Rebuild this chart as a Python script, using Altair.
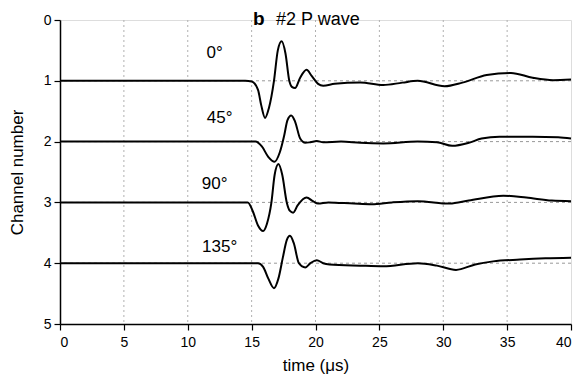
import altair as alt
import pandas as pd

# ---- data ----
channels = [1, 2, 3, 4]
angles = ["0°", "45°", "90°", "135°"]

# time (μs) and displacement (channel units, positive = downward)
t_ch1 = [0, 5, 10, 14.5, 15.0, 15.5, 15.75, 16.05, 16.35, 16.75, 17.05, 17.35, 17.65, 17.95, 18.15, 18.4, 18.8, 19.3, 19.7, 20.2, 20.6, 21.5, 23.5, 25.3, 26.8, 28.0, 30.1, 31.5, 33.4, 35.3, 37.0, 38.6, 40.0]
d_ch1 = [0, 0, 0, 0, 0.01, 0.15, 0.4, 0.61, 0.45, 0.0, -0.5, -0.65, -0.45, 0.0, 0.1, 0.12, -0.05, -0.18, -0.08, 0.05, 0.08, 0.05, 0.03, 0.07, 0.03, 0.0, 0.09, 0.03, -0.095, -0.13, -0.05, -0.01, -0.02]

t_ch2 = [0, 5, 10, 15.3, 15.8, 16.3, 16.8, 17.2, 17.55, 17.8, 18.1, 18.4, 18.8, 19.2, 19.6, 20.1, 20.6, 22.0, 23.5, 25.3, 28.0, 29.5, 30.7, 32.0, 33.0, 34.4, 37.0, 39.0, 40.0]
d_ch2 = [0, 0, 0, 0, 0.08, 0.25, 0.33, 0.18, -0.1, -0.35, -0.43, -0.33, -0.05, 0.02, 0.01, -0.01, 0.01, 0.0, 0.02, 0.03, 0.0, 0.01, 0.07, 0.02, -0.05, -0.08, -0.08, -0.07, -0.05]

t_ch3 = [0, 5, 10, 14.7, 15.1, 15.5, 15.9, 16.2, 16.55, 16.8, 17.1, 17.4, 17.75, 18.0, 18.25, 18.6, 19.3, 19.8, 20.2, 21.0, 23.0, 24.4, 26.0, 28.0, 30.5, 32.0, 34.7, 36.5, 38.5, 40.0]
d_ch3 = [0, 0, 0, 0, 0.15, 0.38, 0.47, 0.35, 0.0, -0.45, -0.63, -0.45, 0.0, 0.14, 0.17, 0.05, -0.08, -0.02, 0.02, 0.0, 0.02, 0.03, 0.0, -0.02, 0.02, -0.03, -0.11, -0.08, -0.03, -0.02]

t_ch4 = [0, 5, 10, 15.5, 15.9, 16.3, 16.75, 17.1, 17.45, 17.75, 18.0, 18.3, 18.7, 19.2, 19.6, 20.1, 20.6, 21.1, 23.5, 25.3, 28.0, 29.5, 31.0, 32.5, 33.9, 36.0, 38.0, 40.0]
d_ch4 = [0, 0, 0, 0, 0.06, 0.25, 0.41, 0.25, -0.1, -0.38, -0.45, -0.33, 0.0, 0.07, 0.0, -0.05, 0.0, 0.02, 0.04, 0.05, 0.0, 0.04, 0.11, 0.02, -0.03, -0.06, -0.08, -0.09]

label_t = [12.1, 12.5, 12.1, 12.5]
label_y = [0.55, 1.62, 2.69, 3.74]

x_grid = [5, 10, 15, 20, 25, 30, 35]
y_grid = [1, 2, 3, 4]
x_ticks = [0, 2.5, 5, 7.5, 10, 12.5, 15, 17.5, 20, 22.5, 25, 27.5, 30, 32.5, 35, 37.5, 40]
y_ticks = [0, 1, 2, 3, 4, 5]

# ---- build table ----
rows = []
for ch, ts, ds in zip(channels, [t_ch1, t_ch2, t_ch3, t_ch4], [d_ch1, d_ch2, d_ch3, d_ch4]):
    for t, d in zip(ts, ds):
        rows.append({"t": t, "y": ch + d, "ch": ch})
df = pd.DataFrame(rows)
labels = pd.DataFrame({"t": label_t, "y": label_y, "text": angles})
xg = pd.DataFrame({"x": x_grid})
yg = pd.DataFrame({"y": y_grid})

FONT = "Liberation Sans"
xscale = alt.Scale(domain=[0, 40], nice=False, zero=False)
yscale = alt.Scale(domain=[0, 5], reverse=True, nice=False, zero=False)

vgrid = alt.Chart(xg).mark_rule(color="#b0b0b0", strokeDash=[2, 3], strokeWidth=1).encode(
    x=alt.X("x:Q", scale=xscale)
)
hgrid = alt.Chart(yg).mark_rule(color="#999999", strokeDash=[3, 3], strokeWidth=1).encode(
    y=alt.Y("y:Q", scale=yscale)
)

lines = alt.Chart(df).mark_line(color="black", strokeWidth=2, interpolate="monotone").encode(
    x=alt.X("t:Q", scale=xscale,
            axis=alt.Axis(title="time (μs)", values=x_ticks,
                          labelExpr="datum.value % 5 === 0 ? datum.label : ''",
                          tickSize={"condition": {"test": "datum.value % 5 === 0", "value": 6}, "value": 3},
                          grid=False, domainColor="black", tickColor="black", domainWidth=1.5,
                          tickWidth=1.2, labelFontSize=14, labelColor="black", labelFont=FONT,
                          titleFont=FONT, titleFontSize=17, titleFontWeight="normal",
                          titleColor="black", labelPadding=5, titlePadding=8)),
    y=alt.Y("y:Q", scale=yscale,
            axis=alt.Axis(title="Channel number", values=y_ticks, format="d", grid=False,
                          domainColor="black", tickColor="black", domainWidth=1.5, tickWidth=1.2,
                          tickSize=6, labelFontSize=14, labelColor="black", labelFont=FONT,
                          titleFont=FONT, titleFontSize=17, titleFontWeight="normal",
                          titleColor="black", labelPadding=3, titlePadding=17)),
    detail="ch:N",
    order="t:Q",
)

texts = alt.Chart(labels).mark_text(font=FONT, fontSize=17, color="black", align="center",
                                    baseline="middle").encode(
    x=alt.X("t:Q", scale=xscale),
    y=alt.Y("y:Q", scale=yscale),
    text="text:N",
)

title_b = alt.Chart(pd.DataFrame({"s": ["b"]})).mark_text(
    font=FONT, fontSize=19, fontWeight="bold", color="black", align="left", baseline="alphabetic"
).encode(x=alt.value(193), y=alt.value(5), text="s:N")
title_t = alt.Chart(pd.DataFrame({"s": ["#2 P wave"]})).mark_text(
    font=FONT, fontSize=18, color="black", align="left", baseline="alphabetic"
).encode(x=alt.value(216), y=alt.value(5), text="s:N")

chart = alt.layer(vgrid, hgrid, lines, texts, title_b, title_t).properties(
    width=511, height=304,
    autosize=alt.AutoSizeParams(type="none"),
    padding={"left": 52, "top": 12, "right": 7, "bottom": 56},
).configure_view(stroke=None).configure(background="white")

chart.save("out.html", embed_options={"renderer": "svg", "actions": False})
